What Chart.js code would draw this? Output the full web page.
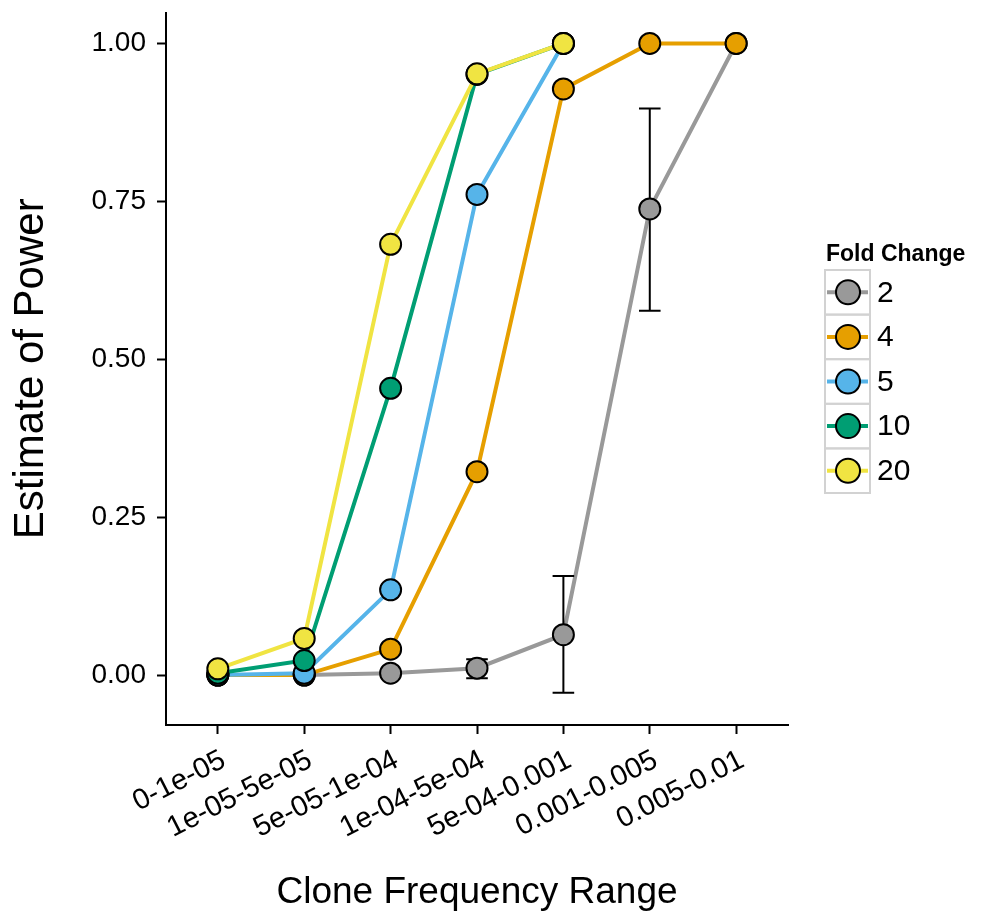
<!DOCTYPE html>
<html>
<head>
<meta charset="utf-8">
<title>Estimate of Power</title>
<script src="https://cdn.jsdelivr.net/npm/chart.js@4.4.0/dist/chart.umd.min.js"></script>
<style>
  html, body { margin: 0; padding: 0; background: #fff; }
</style>
</head>
<body>
<canvas id="myChart" width="988" height="915"></canvas>
<script>
// categories on the x axis
const ranges = ['0-1e-05', '1e-05-5e-05', '5e-05-1e-04', '1e-04-5e-04', '5e-04-0.001', '0.001-0.005', '0.005-0.01'];
const foldChanges = ['2', '4', '5', '10', '20'];
const colors = ['#999999', '#E69F00', '#56B4E9', '#009E73', '#F0E442'];

// estimate of power per fold change
const power2 = [0, 0, 0.003, 0.011, 0.064, 0.738, 1.0];
const power4 = [0, 0, 0.041, 0.322, 0.928, 1.0, 1.0];
const power5 = [0, 0.003, 0.135, 0.761, 1.0];
const power10 = [0.003, 0.023, 0.454, 0.951, 1.0];
const power20 = [0.010, 0.058, 0.682, 0.952, 1.0];

// error bars, only fold change 2 has visible ones
const lower2 = [0, 0, 0.003, -0.005, -0.028, 0.577, 1.0];
const upper2 = [0, 0, 0.003, 0.025, 0.157, 0.897, 1.0];

const yTicks = [0, 0.25, 0.5, 0.75, 1.0];

const allPower = [power2, power4, power5, power10, power20];
const FONT = '"Liberation Sans", Arial, Helvetica, sans-serif';

function toPoints(arr) {
    let pts = [];
    for (let i = 0; i < arr.length; i++) {
        pts.push({x: i, y: arr[i]});
    }
    return pts;
}

let datasets = [];
// lines first (drawn under every point)
for (let k = 0; k < allPower.length; k++) {
    datasets.push({
        label: 'line ' + foldChanges[k],
        data: toPoints(allPower[k]),
        borderColor: colors[k],
        borderWidth: 4,
        pointRadius: 0,
        fill: false,
        tension: 0,
        order: 14 - k
    });
}
for (let k = 0; k < allPower.length; k++) {
    datasets.push({
        label: foldChanges[k],
        data: toPoints(allPower[k]),
        showLine: false,
        pointRadius: 10.5,
        pointBackgroundColor: colors[k],
        pointBorderColor: '#000',
        pointBorderWidth: 2,
        order: 4 - k
    });
}

const errorBars = {
    id: 'errorBars',
    beforeDatasetDraw(chart, args) {
        // draw right before the grey points, after all lines
        if (args.index !== 5) return;
        const x = chart.scales.x, y = chart.scales.y;
        const c = chart.ctx;
        c.save();
        c.strokeStyle = '#000';
        c.lineWidth = 2;
        for (let i = 0; i < lower2.length; i++) {
            if (upper2[i] - lower2[i] < 0.001) continue;
            const px = x.getPixelForValue(i);
            const half = x.getPixelForValue(i + 0.125) - px;
            const yl = y.getPixelForValue(lower2[i]);
            const yu = y.getPixelForValue(upper2[i]);
            c.beginPath();
            c.moveTo(px, yl); c.lineTo(px, yu);
            c.moveTo(px - half, yl); c.lineTo(px + half, yl);
            c.moveTo(px - half, yu); c.lineTo(px + half, yu);
            c.stroke();
        }
        c.restore();
    }
};

const foldLegend = {
    id: 'foldLegend',
    afterDraw(chart) {
        const c = chart.ctx;
        c.save();
        c.fillStyle = '#000';
        c.font = 'bold 23px ' + FONT;
        c.textBaseline = 'alphabetic';
        c.textAlign = 'left';
        c.fillText('Fold Change', 826, 261);
        for (let i = 0; i < foldChanges.length; i++) {
            const top = 270 + i * 44.6;
            const cy = top + 22.3;
            c.strokeStyle = '#d2d2d2';
            c.lineWidth = 2;
            c.strokeRect(825, top, 45, 44.6);
            c.strokeStyle = colors[i];
            c.lineWidth = 4;
            c.beginPath();
            c.moveTo(827, cy); c.lineTo(868, cy);
            c.stroke();
            c.beginPath();
            c.arc(848, cy, 12, 0, Math.PI * 2);
            c.fillStyle = colors[i];
            c.fill();
            c.strokeStyle = '#000';
            c.lineWidth = 2;
            c.stroke();
            c.fillStyle = '#000';
            c.font = '30px ' + FONT;
            c.textBaseline = 'middle';
            c.fillText(foldChanges[i], 877, cy + 1);
        }
        c.restore();
    }
};

var ctx = document.getElementById('myChart');

var myChart = new Chart(ctx, {
    type: 'line',
    data: { datasets: datasets },
    plugins: [errorBars, foldLegend],
    options: {
        responsive: false,
        animation: false,
        devicePixelRatio: 1,
        layout: { padding: { top: 10, right: 200, left: 0, bottom: 0 } },
        plugins: {
            legend: { display: false },
            tooltip: { enabled: false }
        },
        scales: {
            x: {
                type: 'linear',
                min: -0.6,
                max: 6.6,
                afterBuildTicks: function (s) {
                    s.ticks = ranges.map((r, i) => ({ value: i }));
                },
                afterFit: function (s) {
                    s.height = 190;
                    s.paddingLeft = 0;
                    s.paddingRight = 0;
                },
                ticks: {
                    callback: v => ranges[v],
                    color: '#000',
                    font: { family: FONT, size: 29 },
                    minRotation: 27,
                    maxRotation: 27,
                    autoSkip: false,
                    padding: 9,
                    labelOffset: 6
                },
                grid: {
                    display: true,
                    drawOnChartArea: false,
                    drawTicks: true,
                    tickLength: 9,
                    tickWidth: 2,
                    tickColor: '#000'
                },
                border: { display: true, color: '#000', width: 2 },
                title: {
                    display: true,
                    text: 'Clone Frequency Range',
                    color: '#000',
                    font: { family: FONT, size: 37 },
                    padding: { top: 0, bottom: 0 }
                }
            },
            y: {
                type: 'linear',
                min: -0.079,
                max: 1.049,
                afterBuildTicks: function (s) {
                    s.ticks = yTicks.map(v => ({ value: v }));
                },
                afterFit: function (s) {
                    s.width = 166;
                    s.paddingTop = 0;
                    s.paddingBottom = 0;
                },
                ticks: {
                    callback: v => v.toFixed(2),
                    color: '#000',
                    font: { family: FONT, size: 28 },
                    padding: 11
                },
                grid: {
                    display: true,
                    drawOnChartArea: false,
                    drawTicks: true,
                    tickLength: 9,
                    tickWidth: 2,
                    tickColor: '#000'
                },
                border: { display: true, color: '#000', width: 2 },
                title: {
                    display: true,
                    text: 'Estimate of Power',
                    color: '#000',
                    font: { family: FONT, size: 42 },
                    padding: { top: 6, bottom: 0 }
                }
            }
        }
    }
});
</script>
</body>
</html>
